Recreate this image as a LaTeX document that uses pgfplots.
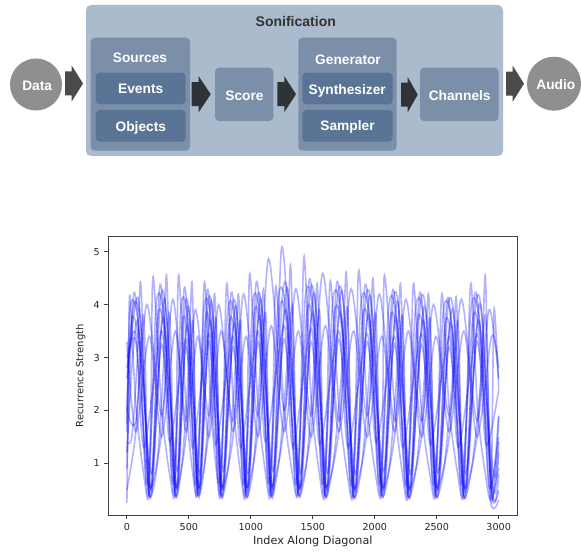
\documentclass[border=0pt]{standalone}
\usepackage{fontspec}
\setmainfont{DejaVu Sans}
\newfontfamily\diag{Liberation Sans}
\usepackage{pgfplots}
\pgfplotsset{compat=1.18}
\definecolor{bgbox}{HTML}{A9BBCD}
\definecolor{midbox}{HTML}{7B8FA8}
\definecolor{darkbox}{HTML}{5A7496}
\definecolor{circ}{HTML}{8F8F8F}
\definecolor{arrA}{HTML}{4A4A4A}
\definecolor{arrB}{HTML}{2F3237}
\definecolor{titletxt}{HTML}{333333}
\newcommand\barrow[5]{\fill[#5] (#1,#4-12) -- (#2,#4-12) -- (#2,#4-18) -- (#3,#4) -- (#2,#4+18) -- (#2,#4+12) -- (#1,#4+12) -- cycle;}
\tikzset{dtxt/.style={anchor=base, inner sep=0pt, text=white, font=\diag\bfseries\fontsize{10.3}{12}\selectfont}}
\begin{document}
\begin{tikzpicture}
\begin{scope}[x=0.75pt,y=-0.75pt]
\useasboundingbox (0,0) rectangle (581,548);
\fill[white] (0,0) rectangle (581,548);
\fill[bgbox, rounded corners=3.75pt] (86,5) rectangle (503,156);
\node[dtxt, text=titletxt, font=\diag\bfseries\fontsize{10.5}{12}\selectfont] at (295.8,26.6) {Sonification};
% sources
\fill[midbox, rounded corners=3pt] (90.7,37.7) rectangle (190,150.7);
\fill[darkbox, rounded corners=3pt] (95.7,72.7) rectangle (185.7,104.3);
\fill[darkbox, rounded corners=3pt] (95.7,110) rectangle (185.7,141.7);
\node[dtxt] at (140,62.9) {Sources};
\node[dtxt] at (140.7,93.9) {Events};
\node[dtxt] at (140.8,131.1) {Objects};
% score
\fill[midbox, rounded corners=3pt] (215,67.7) rectangle (273.3,121);
\node[dtxt] at (244.5,100.7) {Score};
% generator
\fill[midbox, rounded corners=3pt] (298.3,37.7) rectangle (396.7,150.7);
\fill[darkbox, rounded corners=3pt] (302.3,72.7) rectangle (392.7,104.3);
\fill[darkbox, rounded corners=3pt] (302.3,110) rectangle (392.7,141.7);
\node[dtxt] at (348,64.1) {Generator};
\node[dtxt] at (347.2,94.4) {Synthesizer};
\node[dtxt] at (347.5,130.9) {Sampler};
% channels
\fill[midbox, rounded corners=3pt] (420,67.7) rectangle (498.7,121);
\node[dtxt] at (459.7,100.1) {Channels};
% circles
\fill[circ] (36,84.5) circle[radius=26];
\node[dtxt] at (37.2,90.2) {Data};
\fill[circ] (554,83.7) circle[radius=27];
\node[dtxt] at (555.8,89.9) {Audio};
% arrows
\barrow{65}{71.7}{83}{83.5}{arrA}
\barrow{191.7}{198.7}{210.7}{94.2}{arrB}
\barrow{277.3}{284.3}{296}{94.2}{arrB}
\barrow{401}{407.5}{417.7}{94.7}{arrB}
\barrow{506}{512.7}{524}{83.7}{arrA}
\end{scope}
\begin{axis}[
  at={(81.225pt,-177.525pt)}, anchor=north west,
  scale only axis, width=306.75pt, height=208.7pt,
  xmin=-150, xmax=3150, ymin=0.023, ymax=5.284,
  xtick={0,500,1000,1500,2000,2500,3000},
  xticklabels={0,500,1000,1500,2000,2500,3000},
  ytick={1,2,3,4,5}, yticklabels={1,2,3,4,5},
  tick pos=left, tick align=outside, major tick length=2.9pt,
  axis line style={black!75, line width=0.6pt},
  every tick/.style={black!75, line width=0.6pt},
  /pgf/number format/assume math mode=true,
  ticklabel style={font=\fontsize{7.2}{8}\selectfont, text=black!85},
  xlabel={Index Along Diagonal}, ylabel={Recurrence Strength},
  xlabel style={font=\fontsize{8.4}{10}\selectfont, text=black!85, at={(axis description cs:0.5,-0.096)}, anchor=center},
  ylabel style={font=\fontsize{7.5}{9}\selectfont, text=black!85, at={(axis description cs:-0.0675,0.5)}, anchor=center},
  rl/.style={blue, opacity=0.3, line width=1.2pt, smooth, tension=0.5, mark=none},
]
% S1
\addplot[rl] coordinates {(0,0.25) (12,2.6) (24,4.18) (72,2.1) (135,0.8) (177,0.38) (196,2.4) (212,4.53) (281,2.0) (344,0.8) (386,0.40) (402,2.4) (418,4.56) (477,2.1) (532,0.8) (568,0.42) (597,2.3) (627,4.43) (680,2.0) (725,0.8) (756,0.40) (782,2.4) (807,4.40) (860,2.1) (917,0.8) (957,0.38) (975,2.4) (992,4.59) (1058,2.1) (1119,0.8) (1159,0.40) (1181,2.4) (1203,4.35) (1269,2.0) (1335,0.8) (1379,0.42) (1405,2.4) (1430,4.91) (1487,2.2) (1553,0.8) (1596,0.38) (1619,2.4) (1642,4.45) (1710,2.1) (1778,0.8) (1824,0.37) (1848,2.4) (1872,4.65) (1938,2.1) (2006,0.8) (2052,0.40) (2066,2.4) (2079,4.56) (2159,2.1) (2223,0.8) (2266,0.36) (2290,2.4) (2314,4.40) (2377,2.0) (2444,0.8) (2489,0.38) (2516,2.3) (2543,4.21) (2601,2.0) (2669,0.8) (2714,0.37) (2745,2.3) (2776,4.40) (2830,2.0) (2892,0.8) (2937,0.36) (2950,2.2) (2964,3.93) (3000,2.4)};
% S2
\addplot[rl] coordinates {(0,1.40) (40,1.5) (83,2.9) (110,4.43) (145,2.3) (177,0.42) (240,0.9) (292,2.7) (319,4.56) (352,2.3) (386,0.42) (441,0.9) (495,2.7) (525,4.43) (548,2.2) (568,0.44) (624,0.9) (680,2.7) (708,4.21) (734,2.2) (756,0.42) (816,0.9) (870,2.6) (900,4.20) (930,2.2) (957,0.40) (1018,0.9) (1072,2.7) (1102,4.30) (1132,2.3) (1159,0.42) (1225,1.0) (1290,2.8) (1320,4.75) (1350,2.4) (1379,0.44) (1444,0.9) (1505,2.7) (1535,4.40) (1566,2.3) (1596,0.40) (1664,1.0) (1735,2.8) (1770,4.62) (1797,2.3) (1824,0.40) (1892,0.9) (1955,2.7) (1985,4.50) (2020,2.3) (2052,0.42) (2116,0.9) (2178,2.7) (2207,4.40) (2238,2.3) (2266,0.40) (2333,0.9) (2400,2.6) (2433,4.21) (2462,2.2) (2489,0.40) (2557,0.9) (2626,2.6) (2656,4.15) (2686,2.2) (2714,0.38) (2781,0.9) (2860,2.7) (2891,4.56) (2915,2.3) (2937,0.34) (2970,0.6) (3000,0.91)};
% S3
\addplot[rl] coordinates {(0,1.75) (20,3.2) (62,4.05) (118,3.5) (185,0.36) (271,4.10) (327,3.55) (394,0.38) (468,3.95) (517,3.4) (576,0.40) (653,4.00) (703,3.45) (764,0.37) (846,3.90) (901,3.5) (965,0.40) (1048,4.05) (1102,3.55) (1167,0.38) (1258,4.25) (1317,3.7) (1387,0.42) (1477,4.20) (1535,3.6) (1604,0.38) (1699,4.15) (1760,3.7) (1832,0.36) (1927,4.10) (1988,3.6) (2060,0.40) (2148,4.05) (2206,3.6) (2274,0.36) (2366,4.00) (2427,3.55) (2497,0.38) (2590,3.95) (2651,3.5) (2722,0.37) (2814,4.00) (2875,3.55) (2945,0.34) (3000,1.88)};
% S4
\addplot[rl] coordinates {(0,2.0) (41,3.75) (104,3.1) (162,0.6) (250,3.80) (313,3.2) (371,0.62) (450,3.70) (504,3.0) (553,0.6) (634,3.75) (690,3.1) (741,0.62) (826,3.65) (887,3.1) (942,0.6) (1028,3.85) (1088,3.2) (1144,0.62) (1236,3.95) (1302,3.3) (1364,0.6) (1455,3.90) (1520,3.2) (1581,0.6) (1676,3.85) (1744,3.3) (1809,0.58) (1904,3.80) (1972,3.2) (2037,0.6) (2127,3.75) (2191,3.1) (2251,0.58) (2344,3.70) (2411,3.1) (2474,0.6) (2568,3.65) (2635,3.0) (2699,0.58) (2792,3.75) (2859,3.1) (2922,0.56) (3000,1.5)};
% S5
\addplot[rl] coordinates {(0,2.6) (30,3.3) (97,4.05) (187,0.55) (240,2.1) (307,4.10) (396,0.58) (441,2.0) (499,3.95) (578,0.56) (624,2.1) (685,4.05) (766,0.55) (816,2.0) (881,3.95) (967,0.58) (1018,2.1) (1082,4.10) (1169,0.56) (1225,2.2) (1295,4.30) (1389,0.58) (1444,2.1) (1514,4.20) (1606,0.55) (1664,2.2) (1737,4.25) (1834,0.54) (1892,2.1) (1965,4.15) (2062,0.56) (2116,2.1) (2185,4.05) (2276,0.54) (2333,2.0) (2404,3.95) (2499,0.55) (2557,2.0) (2629,3.90) (2724,0.55) (2781,2.1) (2852,4.00) (2947,0.50) (3000,0.5)};
% S6
\addplot[rl] coordinates {(0,3.0) (72,3.45) (137,1.3) (281,3.50) (346,1.4) (477,3.35) (528,1.3) (662,3.45) (716,1.35) (856,3.40) (917,1.3) (1058,3.50) (1119,1.4) (1269,3.60) (1339,1.3) (1487,3.55) (1556,1.35) (1710,3.50) (1784,1.3) (1938,3.45) (2012,1.4) (2159,3.40) (2226,1.3) (2377,3.45) (2449,1.35) (2601,3.40) (2674,1.3) (2825,3.45) (2897,1.35) (3000,2.39)};
% S7
\addplot[rl] coordinates {(0,2.0) (72,1.8) (162,4.0) (281,1.9) (371,4.1) (477,1.8) (553,3.9) (662,1.9) (741,4.0) (856,1.8) (942,4.2) (1058,1.9) (1144,4.87) (1269,2.0) (1364,4.3) (1487,1.9) (1581,4.59) (1710,1.8) (1809,4.3) (1938,1.9) (2037,4.2) (2159,1.8) (2251,4.1) (2377,1.8) (2474,4.0) (2601,1.9) (2699,4.1) (2825,1.8) (2922,3.9) (3000,2.6)};
% S8
\addplot[rl] coordinates {(0,0.9) (55,4.20) (125,2.7) (199,0.50) (265,4.35) (334,2.6) (408,0.52) (462,4.30) (523,2.5) (590,0.50) (647,4.25) (709,2.6) (778,0.52) (840,4.20) (907,2.6) (979,0.50) (1042,4.40) (1109,2.7) (1181,0.50) (1247,5.06) (1324,2.8) (1401,0.52) (1470,4.45) (1542,2.7) (1618,0.50) (1692,4.40) (1767,2.7) (1846,0.48) (1920,4.35) (1995,2.6) (2074,0.50) (2142,4.25) (2213,2.6) (2288,0.48) (2360,4.20) (2433,2.5) (2511,0.50) (2584,4.10) (2658,2.5) (2736,0.48) (2808,4.20) (2881,2.6) (2959,0.45) (3000,1.2)};
% S9
\addplot[rl] coordinates {(0,1.2) (83,3.70) (197,0.80) (292,3.75) (406,0.85) (486,3.60) (588,0.80) (671,3.70) (776,0.85) (867,3.65) (977,0.80) (1068,3.80) (1179,0.85) (1280,3.90) (1399,0.80) (1498,3.85) (1616,0.82) (1721,3.85) (1844,0.80) (1949,3.80) (2072,0.85) (2170,3.75) (2286,0.80) (2389,3.70) (2509,0.82) (2613,3.65) (2734,0.80) (2837,3.70) (2957,0.80) (3000,1.4)};
% S10
\addplot[rl] coordinates {(0,1.6) (26,3.95) (93,3.6) (169,0.40) (236,4.00) (302,3.65) (378,0.42) (437,3.95) (495,3.55) (560,0.40) (621,3.90) (681,3.6) (748,0.42) (812,3.85) (877,3.55) (949,0.40) (1014,4.00) (1078,3.65) (1151,0.42) (1221,4.10) (1291,3.75) (1371,0.40) (1440,4.15) (1509,3.7) (1588,0.40) (1660,4.05) (1733,3.7) (1816,0.38) (1888,4.00) (1961,3.65) (2044,0.40) (2112,3.95) (2180,3.6) (2258,0.38) (2328,3.90) (2400,3.6) (2481,0.40) (2552,3.85) (2624,3.55) (2706,0.38) (2776,3.90) (2848,3.6) (2929,0.36) (3000,0.31)};
% S11
\addplot[rl] coordinates {(0,0.5) (72,1.6) (135,3.8) (177,0.60) (281,1.6) (344,3.85) (386,0.62) (477,1.5) (532,3.7) (568,0.60) (662,1.6) (718,3.75) (756,0.62) (856,1.5) (917,3.7) (957,0.60) (1058,1.6) (1119,3.85) (1159,0.62) (1269,1.7) (1335,4.0) (1379,0.60) (1487,1.6) (1553,3.9) (1596,0.62) (1710,1.6) (1778,3.95) (1824,0.60) (1938,1.6) (2006,3.85) (2052,0.62) (2159,1.5) (2223,3.8) (2266,0.60) (2377,1.5) (2444,3.75) (2489,0.62) (2601,1.5) (2669,3.7) (2714,0.60) (2825,1.5) (2892,3.8) (2937,0.55) (3000,1.9)};
% S12
\addplot[rl] coordinates {(0,2.8) (72,3.3) (192,0.35) (281,3.25) (401,0.36) (477,3.2) (583,0.36) (662,3.3) (771,0.35) (856,3.2) (972,0.36) (1058,3.3) (1174,0.35) (1269,3.35) (1394,0.36) (1487,3.3) (1611,0.35) (1710,3.35) (1839,0.34) (1938,3.3) (2067,0.36) (2159,3.25) (2281,0.34) (2377,3.25) (2504,0.35) (2601,3.2) (2729,0.34) (2825,3.3) (2952,0.33) (3000,0.8)};
% S13
\addplot[rl] coordinates {(0,3.3) (72,1.6) (182,3.4) (281,1.5) (391,3.5) (477,1.6) (573,3.4) (662,1.5) (761,3.5) (856,1.6) (962,3.4) (1058,1.5) (1164,3.6) (1269,1.6) (1384,3.5) (1487,1.5) (1601,3.6) (1710,1.6) (1829,3.5) (1938,1.5) (2057,3.4) (2159,1.6) (2271,3.5) (2377,1.5) (2494,3.4) (2601,1.6) (2719,3.5) (2825,1.5) (2942,3.4) (3000,2.8)};
\end{axis}
\end{tikzpicture}
\end{document}
